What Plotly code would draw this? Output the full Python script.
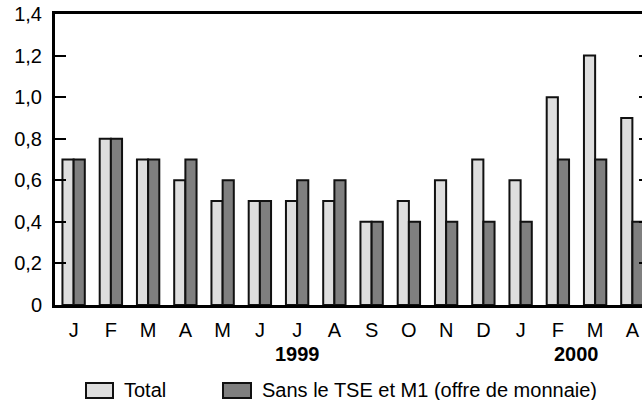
import plotly.graph_objects as go

months = ["J", "F", "M", "A", "M", "J", "J", "A", "S", "O", "N", "D", "J", "F", "M", "A"]
total = [0.7, 0.8, 0.7, 0.6, 0.5, 0.5, 0.5, 0.5, 0.4, 0.5, 0.6, 0.7, 0.6, 1.0, 1.2, 0.9]
sans = [0.7, 0.8, 0.7, 0.7, 0.6, 0.5, 0.6, 0.6, 0.4, 0.4, 0.4, 0.4, 0.4, 0.7, 0.7, 0.4]
y_ticks = [0, 0.2, 0.4, 0.6, 0.8, 1.0, 1.2, 1.4]
y_labels = ["0", "0,2", "0,4", "0,6", "0,8", "1,0", "1,2", "1,4"]
years = ["1999", "2000"]
year_pos = [6, 13.5]
names = ["Total", "Sans le TSE et M1 (offre de monnaie)"]
colors = ["#dedede", "#7f7f7f"]

x = list(range(len(months)))
FONT = "Liberation Sans, Arial, sans-serif"
FS = 20

W, H = 642, 400
L, T, B = 55, 14, 95
PW, PH = W - L, H - T - B
cat_w = 37.25
x_end = -0.5 + PW / cat_w

fig = go.Figure()
for name, vals, col in zip(names, [total, sans], colors):
    fig.add_bar(x=x, y=vals, name=name, showlegend=False,
                marker=dict(color=col, line=dict(color="#111111", width=2)))
# invisible trace for right-side ticks
fig.add_scatter(x=[0], y=[0], yaxis="y2", mode="markers", marker=dict(opacity=0),
                showlegend=False, hoverinfo="skip")

fig.update_layout(
    width=W, height=H,
    margin=dict(l=L, r=0, t=T, b=B, autoexpand=False),
    paper_bgcolor="white", plot_bgcolor="white",
    barmode="group", bargap=0.4, bargroupgap=0,
    font=dict(family=FONT, size=FS, color="#000000"),
    xaxis=dict(
        range=[-0.5, x_end], tickmode="array", tickvals=x, ticktext=months,
        showline=True, linecolor="#000000", linewidth=3, mirror=True,
        ticks="", showgrid=False, zeroline=False, ticklabelstandoff=5,
        automargin=False,
    ),
    yaxis=dict(
        range=[0, 1.4], tickmode="array", tickvals=y_ticks, ticktext=y_labels,
        showline=True, linecolor="#000000", linewidth=3, mirror=False,
        ticks="inside", ticklen=11, tickwidth=2, tickcolor="#000000",
        showgrid=False, zeroline=False, ticklabelstandoff=6, automargin=False,
    ),
    yaxis2=dict(
        range=[0, 1.4], overlaying="y", side="right", anchor="x", tickmode="array",
        tickvals=y_ticks, showticklabels=False, ticks="inside", ticklen=3, tickwidth=2,
        tickcolor="#000000", showgrid=False, zeroline=False, showline=False,
        automargin=False,
    ),
    showlegend=False,
)

for yr, pos in zip(years, year_pos):
    fig.add_annotation(x=pos, y=0, xref="x", yref="paper", yshift=-49, text="<b>" + yr + "</b>",
                       showarrow=False, font=dict(size=FS, family=FONT), yanchor="middle")

# legend (drawn manually to match box size)
def px_x(p):
    return (p - L) / PW

def px_y(p):
    return (H - B - p) / PH

leg_boxes = [(86, 113), (223, 251)]
for name, col, (x0, x1) in zip(names, colors, leg_boxes):
    fig.add_shape(type="rect", xref="paper", yref="paper",
                  x0=px_x(x0), x1=px_x(x1), y0=px_y(398), y1=px_y(383),
                  fillcolor=col, line=dict(color="#111111", width=2))
    fig.add_annotation(x=px_x(x1 + 9), y=px_y(390), xref="paper", yref="paper",
                       text=name, showarrow=False, xanchor="left", yanchor="middle",
                       font=dict(size=FS, family=FONT))

fig.write_html(
    "out.html",
    config={"displayModeBar": False, "staticPlot": True},
    post_script="document.body.style.margin='0';document.body.style.overflow='hidden';",
)
